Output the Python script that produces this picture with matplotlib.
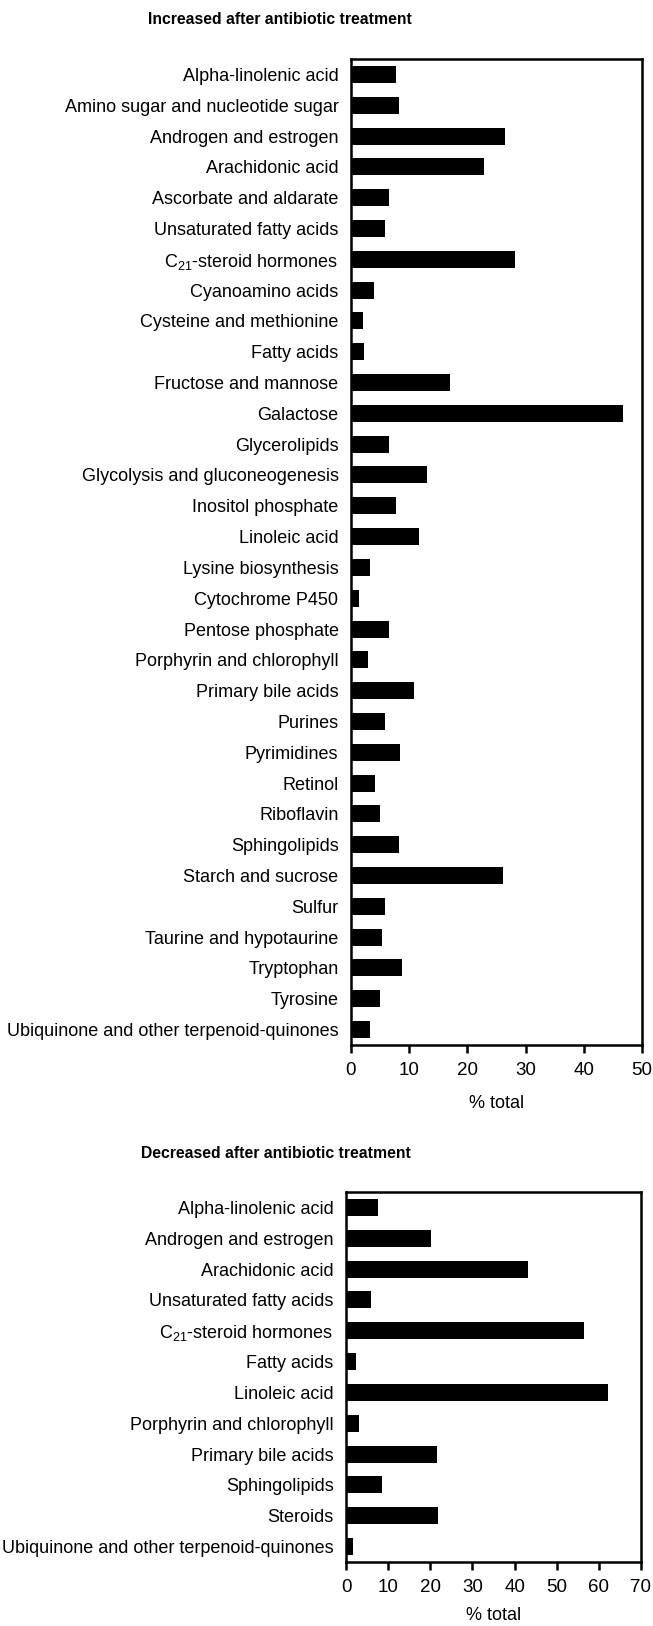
import numpy as np
import matplotlib
matplotlib.use("Agg")
import matplotlib.pyplot as plt

plt.rcParams['font.family'] = ['Liberation Sans', 'DejaVu Sans']
plt.rcParams['mathtext.fontset'] = 'custom'
plt.rcParams['mathtext.rm'] = 'Liberation Sans'
plt.rcParams['mathtext.it'] = 'Liberation Sans:italic'

# pathways up after antibiotics
up_labels = [
    "Alpha-linolenic acid", "Amino sugar and nucleotide sugar", "Androgen and estrogen",
    "Arachidonic acid", "Ascorbate and aldarate", "Unsaturated fatty acids",
    "C$_{21}$-steroid hormones", "Cyanoamino acids", "Cysteine and methionine",
    "Fatty acids", "Fructose and mannose", "Galactose", "Glycerolipids",
    "Glycolysis and gluconeogenesis", "Inositol phosphate", "Linoleic acid",
    "Lysine biosynthesis", "Cytochrome P450", "Pentose phosphate",
    "Porphyrin and chlorophyll", "Primary bile acids", "Purines", "Pyrimidines",
    "Retinol", "Riboflavin", "Sphingolipids", "Starch and sucrose", "Sulfur",
    "Taurine and hypotaurine", "Tryptophan", "Tyrosine",
    "Ubiquinone and other terpenoid-quinones",
]
up_vals = [7.8, 8.3, 26.4, 22.8, 6.6, 5.8, 28.2, 4.0, 2.0, 2.2, 17.0, 46.7, 6.6,
           13.1, 7.8, 11.6, 3.2, 1.4, 6.6, 2.9, 10.9, 5.8, 8.5, 4.2, 5.0, 8.3,
           26.1, 5.8, 5.3, 8.8, 5.0, 3.2]

# pathways down after antibiotics
down_labels = [
    "Alpha-linolenic acid", "Androgen and estrogen", "Arachidonic acid",
    "Unsaturated fatty acids", "C$_{21}$-steroid hormones", "Fatty acids",
    "Linoleic acid", "Porphyrin and chlorophyll", "Primary bile acids",
    "Sphingolipids", "Steroids", "Ubiquinone and other terpenoid-quinones",
]
down_vals = [7.7, 20.1, 43.1, 6.0, 56.5, 2.4, 62.2, 3.1, 21.6, 8.5, 21.8, 1.7]

W, H = 653, 1626
fig = plt.figure(figsize=(W / 100, H / 100), dpi=100)


def px_axes(left, top, right, bottom):
    return fig.add_axes([left / W, 1 - bottom / H, (right - left) / W, (bottom - top) / H])


def draw(ax, labels, vals, xmax, xpad):
    y = np.arange(len(labels))
    ax.barh(y, vals, height=0.55, color='black')
    ax.set_ylim(len(labels) - 0.5, -0.5)
    ax.set_yticks(y)
    ax.set_yticklabels(labels, fontsize=13)
    ax.tick_params(axis='y', length=0, pad=9)
    ax.set_xlim(0, xmax)
    ax.set_xticks(np.arange(0, xmax + 1, 10))
    ax.tick_params(axis='x', labelsize=13.5, length=6, width=1.8, pad=6)
    ax.set_xlabel('% total', fontsize=13, labelpad=xpad)
    for s in ax.spines.values():
        s.set_linewidth(1.8)


ax1 = px_axes(351, 59, 642, 1045)
draw(ax1, up_labels, up_vals, 50, 12)
ax2 = px_axes(346, 1192, 641, 1562)
draw(ax2, down_labels, down_vals, 70, 8)

fig.text(280 / W, 1 - 20 / H, 'Increased after antibiotic treatment', ha='center', va='center',
         fontsize=11.3, fontweight='bold')
fig.text(276 / W, 1 - 1153 / H, 'Decreased after antibiotic treatment', ha='center', va='center',
         fontsize=11.3, fontweight='bold')

fig.savefig('out.png', dpi=100)
